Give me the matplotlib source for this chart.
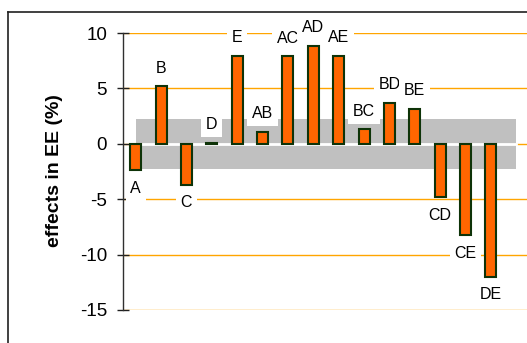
import matplotlib

matplotlib.use("Agg")
import matplotlib.pyplot as plt
from matplotlib.lines import Line2D

plt.rcParams["font.family"] = ["Liberation Sans", "DejaVu Sans"]
plt.rcParams["axes.unicode_minus"] = False

effects = ["A", "B", "C", "D", "E", "AB", "AC", "AD", "AE", "BC", "BD", "BE", "CD", "CE", "DE"]
values = [-2.4, 5.2, -3.7, 0.1, 7.95, 1.1, 7.9, 8.85, 7.95, 1.3, 3.7, 3.15, -4.8, -8.25, -12.0]
band_upper = 2.2
band_lower = -2.25
yticks = [10, 5, 0, -5, -10, -15]

W, H = 527, 343
fig = plt.figure(figsize=(W / 100, H / 100), dpi=100)
ax = fig.add_axes([123 / W, 1 - 310 / H, (529 - 123) / W, (310 - 33) / H])

# orange gridlines
for y in yticks:
    ax.axhline(y, color="#FFA500", lw=1, zorder=0.5)

# grey non-significance band
n = len(effects)
ax.fill_between([0, n], 0, band_upper, color="#C0C0C0", lw=0, zorder=1)
ax.fill_between([0, n], band_lower, 0, color="#C0C0C0", lw=0, zorder=1)
ax.plot([0, n], [0, 0], color="white", lw=2, zorder=1.5)

x = list(range(n))
ax.bar(x, values, width=0.43, color="#FF6600", edgecolor="#0E3308", linewidth=1.5, zorder=3)

for xi, v, name in zip(x, values, effects):
    off = 13 if v >= 0 else -13
    ax.annotate(name, (xi, v), xytext=(0, off), textcoords="offset points",
                ha="center", va="center", fontsize=11.5, zorder=4,
                bbox=dict(boxstyle="square,pad=0.3", fc="white", ec="none"))

ax.set_xlim(-0.5, n + 0.5)
ax.set_ylim(-15, 10)
ax.set_yticks(yticks)
ax.set_yticklabels([str(t) for t in yticks], fontsize=13.5)
ax.set_xticks([])
ax.tick_params(axis="y", direction="inout", length=9, width=1, pad=7, color="#202020")
for side in ["top", "right", "bottom"]:
    ax.spines[side].set_visible(False)
ax.spines["left"].set_color("#303030")
ax.spines["left"].set_linewidth(1)
ax.patch.set_alpha(0)

fig.text(55 / W, 1 - 171 / H, "effects in EE (%)", rotation=90, fontsize=14,
         fontweight="bold", ha="center", va="center")

# outer chart frame (cropped)
fig.add_artist(Line2D([8 / W, 8 / W], [1 - 12 / H, 0], color="#202020", lw=1.2))
fig.add_artist(Line2D([8 / W, 1], [1 - 12 / H, 1 - 12 / H], color="#202020", lw=1.2))

fig.savefig("out.png", dpi=100)
plt.close(fig)
